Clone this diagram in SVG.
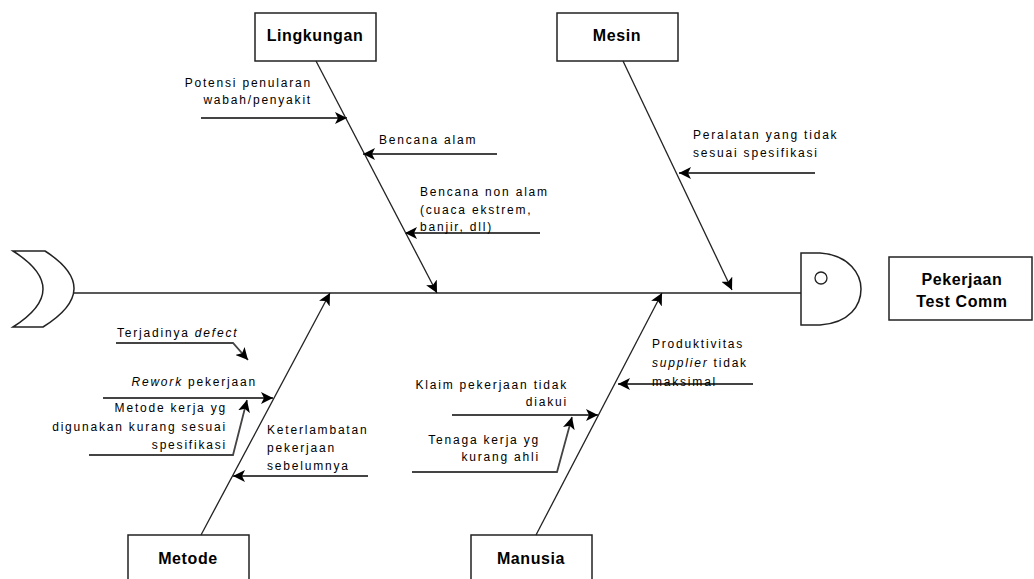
<svg xmlns="http://www.w3.org/2000/svg" width="1034" height="579" viewBox="0 0 1034 579">
<style>
.box{fill:#fff;stroke:#222;stroke-width:1.5}
.hd{font-family:"Liberation Sans",Arial,sans-serif;font-weight:bold;font-size:16px;letter-spacing:0.6px;fill:#000;text-anchor:middle}
.lb{font-family:"Liberation Sans",Arial,sans-serif;font-size:12px;letter-spacing:1.8px;fill:#000}
.r{text-anchor:end}
.bone{stroke:#222;stroke-width:1.3;fill:none}
.sub{stroke:#444;stroke-width:1.8;fill:none}
.it{font-style:italic}
</style>
<defs>
<marker id="ah" markerUnits="userSpaceOnUse" markerWidth="14" markerHeight="12" refX="12" refY="6" orient="auto">
<path d="M0,0 L12,6 L0,12 L3,6 Z" fill="#000"/>
</marker>
</defs>
<g id="tail"><path class="box" d="M13,251 L45,251 Q104,289 43,327 L13,327 Q73,289 13,251 Z"/></g>
<g id="head"><path class="box" d="M801,253 L820,253 C850,255 861,275 861,289 C861,305 850,323 820,325 L801,325 Z"/><circle cx="821" cy="278" r="6" fill="#fff" stroke="#222" stroke-width="1.3"/></g>
<g id="effect"><rect class="box" x="889" y="257" width="143" height="63"/><text class="hd" x="962" y="285">Pekerjaan</text><text class="hd" x="962" y="307">Test  Comm</text></g>
<g id="lingkungan"><rect class="box" x="255" y="13" width="121" height="48"/><text class="hd" x="315" y="41">Lingkungan</text></g>
<g id="mesin"><rect class="box" x="557" y="13" width="121" height="48"/><text class="hd" x="617" y="41">Mesin</text></g>
<g id="metode"><rect class="box" x="128" y="535" width="121" height="50"/><text class="hd" x="188" y="564">Metode</text></g>
<g id="manusia"><rect class="box" x="471" y="535" width="121" height="50"/><text class="hd" x="531" y="564">Manusia</text></g>
<g id="connectors">
<line class="bone" x1="74" y1="293" x2="801" y2="293" stroke-width="1.6"/>
<line class="bone" x1="316" y1="61" x2="437" y2="293" marker-end="url(#ah)"/>
<line class="bone" x1="623" y1="61" x2="732" y2="290" marker-end="url(#ah)"/>
<line class="bone" x1="201" y1="535" x2="330" y2="293" marker-end="url(#ah)"/>
<line class="bone" x1="536" y1="535" x2="662" y2="293" marker-end="url(#ah)"/>
<line class="sub" x1="201" y1="118" x2="347" y2="118" marker-end="url(#ah)"/>
<line class="sub" x1="497" y1="154" x2="363" y2="154" marker-end="url(#ah)"/>
<line class="sub" x1="540" y1="233" x2="405" y2="233" marker-end="url(#ah)"/>
<line class="sub" x1="815" y1="173" x2="679" y2="173" marker-end="url(#ah)"/>
<polyline class="sub" points="116,343 233,343 248,360" marker-end="url(#ah)"/>
<line class="sub" x1="103" y1="398" x2="273" y2="398" marker-end="url(#ah)"/>
<polyline class="sub" points="89,455 233,455 247,400" marker-end="url(#ah)"/>
<line class="sub" x1="368" y1="476" x2="233" y2="476" marker-end="url(#ah)"/>
<line class="sub" x1="753" y1="384" x2="618" y2="384" marker-end="url(#ah)"/>
<line class="sub" x1="452" y1="415" x2="598" y2="415" marker-end="url(#ah)"/>
<polyline class="sub" points="412,472 557,472 572,417" marker-end="url(#ah)"/>
</g>
<g id="labels">
<text class="lb r" x="312" y="87">Potensi penularan</text>
<text class="lb r" x="312" y="104">wabah/penyakit</text>
<text class="lb" x="379" y="144">Bencana alam</text>
<text class="lb" x="420" y="196">Bencana non alam</text>
<text class="lb" x="420" y="214">(cuaca ekstrem,</text>
<text class="lb" x="420" y="231">banjir, dll)</text>
<text class="lb" x="693" y="139">Peralatan yang tidak</text>
<text class="lb" x="693" y="157">sesuai spesifikasi</text>
<text class="lb" x="117" y="337">Terjadinya <tspan class="it">defect</tspan></text>
<text class="lb r" x="257" y="386"><tspan class="it">Rework</tspan> pekerjaan</text>
<text class="lb r" x="227" y="412">Metode kerja yg</text>
<text class="lb r" x="227" y="431">digunakan kurang sesuai</text>
<text class="lb r" x="227" y="449">spesifikasi</text>
<text class="lb" x="267" y="434">Keterlambatan</text>
<text class="lb" x="267" y="452">pekerjaan</text>
<text class="lb" x="267" y="470">sebelumnya</text>
<text class="lb" x="652" y="348">Produktivitas</text>
<text class="lb" x="652" y="367"><tspan class="it">supplier</tspan> tidak</text>
<text class="lb" x="652" y="386">maksimal</text>
<text class="lb r" x="568" y="389">Klaim pekerjaan tidak</text>
<text class="lb r" x="568" y="406">diakui</text>
<text class="lb r" x="540" y="444">Tenaga kerja yg</text>
<text class="lb r" x="540" y="461">kurang ahli</text>
</g>
</svg>
